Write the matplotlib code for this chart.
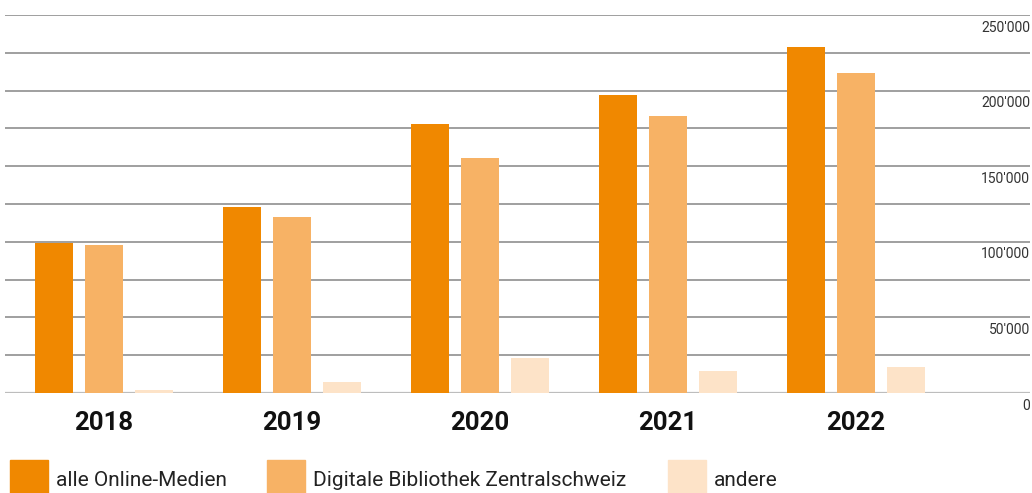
import matplotlib
matplotlib.use("Agg")
import matplotlib.pyplot as plt
from matplotlib.patches import Rectangle
import numpy as np

plt.rcParams['font.family'] = ['Roboto', 'DejaVu Sans']

years = ["2018", "2019", "2020", "2021", "2022"]
online = [99100, 122900, 177600, 197400, 229100]
dibiz = [97800, 116300, 155200, 182900, 211900]
andere = [2200, 7400, 23300, 14700, 17300]
series_names = ["alle Online-Medien", "Digitale Bibliothek Zentralschweiz", "andere"]
colors = ["#F08800", "#F7B265", "#FDE3C8"]
yticks = np.arange(0, 250001, 25000)
ylabels = [0, 50000, 100000, 150000, 200000, 250000]

W, H = 1032, 493
fig = plt.figure(figsize=(W / 100, H / 100), dpi=100)
ax = fig.add_axes([5 / W, (H - 393) / H, 1025 / W, 378 / H])

x = np.arange(len(years))
bw = 38 / 188
off = 50 / 188
for k, vals in enumerate([online, dibiz, andere]):
    ax.bar(x + (k - 1) * off, vals, width=bw, color=colors[k], zorder=3)

for v in yticks:
    c = "#bdbdbd" if v == 0 else "#979797"
    ax.axhline(v, color=c, lw=1.6 if v == 0 else 1.3, zorder=1)

for v in ylabels:
    s = "{:,}".format(v).replace(",", "'")
    ax.annotate(s, (1.0, v), xycoords=("axes fraction", "data"),
                xytext=(0, -4), textcoords="offset points",
                ha="right", va="top", fontsize=10, color="#333333")

ax.set_xlim((5 - 104) / 188, (1030 - 104) / 188)
ax.set_ylim(0, 250000)
ax.set_xticks(x)
ax.set_xticklabels(years, fontsize=18.5, fontweight="bold", color="#111111")
ax.tick_params(axis="x", length=0, pad=13)
ax.set_yticks([])
for sp in ax.spines.values():
    sp.set_visible(False)
ax.patch.set_alpha(0)

# legend along the bottom
leg_x = [10, 267, 668]
for k, name in enumerate(series_names):
    fig.patches.append(Rectangle((leg_x[k] / W, 0), 38 / W, 33 / H,
                                 transform=fig.transFigure, color=colors[k]))
    fig.text((leg_x[k] + 46) / W, 13 / H, name, fontsize=15,
             color="#222222", va="center", ha="left")

fig.savefig("out.png", dpi=100)
